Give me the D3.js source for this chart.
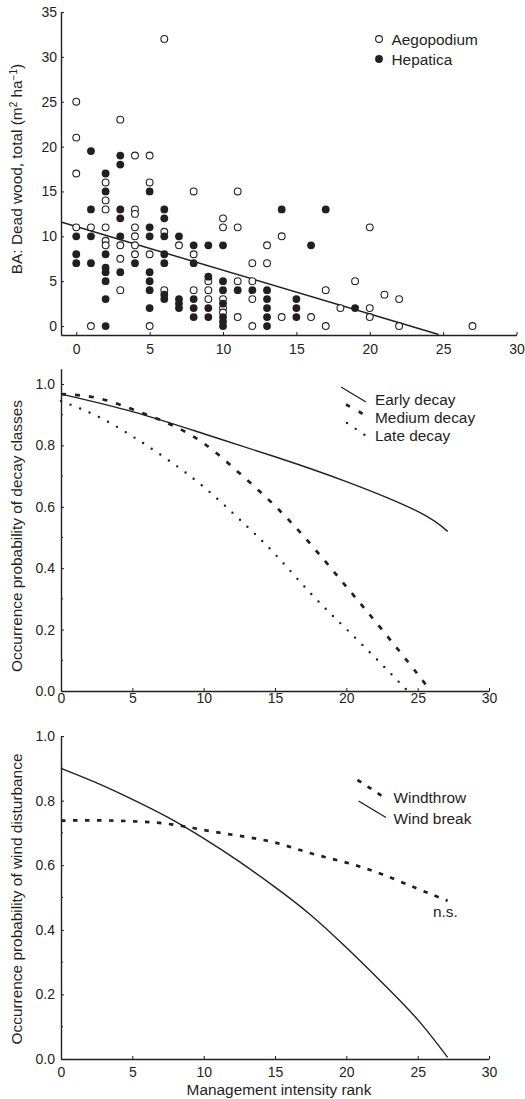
<!DOCTYPE html>
<html><head><meta charset="utf-8">
<script src="https://cdn.jsdelivr.net/npm/d3@7"></script>
<style>
html,body{margin:0;padding:0;background:#fff;}
svg{display:block;font-family:"Liberation Sans",Arial,sans-serif;}
</style></head>
<body>
<svg id="c" width="525" height="1099"></svg>
<script>
// ---------- DATA ----------
// Panel A: dead wood basal area vs management intensity rank
const aegopodium = [
 [0,25],[0,21],[0,17],[0,11],
 [1,11],[1,0],
 [2,16],[2,14],[2,13],[2,11],[2,9.5],[2,9],
 [3,23],[3,9],[3,7.5],[3,4],
 [4,19],[4,13],[4,12.5],[4,11],[4,10],[4,9],[4,8],
 [5,19],[5,16],[5,8],[5,0],
 [6,32],[6,10.5],[6,4],
 [7,9],
 [8,15],[8,8],[8,4],
 [9,5],[9,4],[9,3],
 [10,12],[10,11],[10,3],[10,2],[10,1.5],
 [11,15],[11,11],[11,5],[11,1],
 [12,7],[12,5],[12,3],[12,0],
 [13,9],[13,7],
 [14,10],[14,1],
 [16,1],
 [17,4],[17,0],
 [18,2],
 [19,5],
 [20,11],[20,2],[20,1],
 [21,3.5],
 [22,3],[22,0],
 [27,0]
];
const hepatica = [
 [0,10],[0,8],[0,7],
 [1,19.5],[1,13],[1,10],[1,7],
 [2,17],[2,15],[2,8],[2,6.5],[2,6],[2,5],[2,3],[2,0],
 [3,19],[3,18],[3,13],[3,12],[3,10],[3,6],
 [4,7],
 [5,15],[5,11],[5,10],[5,6],[5,5],[5,4],[5,2],
 [6,13],[6,12],[6,10],[6,8],[6,7],[6,3.5],[6,3],
 [7,10],[7,3],[7,2.5],[7,2],
 [8,9],[8,7],[8,3],[8,2],[8,1],
 [9,9],[9,5.5],[9,2],[9,1],
 [10,9],[10,5],[10,4],[10,2.5],[10,1],[10,0.5],[10,0],
 [11,4],
 [12,4],
 [13,4],[13,3],[13,2],[13,1],[13,0],
 [14,13],
 [15,3],[15,2],[15,1],
 [16,9],
 [17,13],
 [19,2]
];
const regressionLine = [[-1.04,11.6],[24.7,-0.95]];
const xTicksA = [0,5,10,15,20,25,30];
const yTicksA = [0,5,10,15,20,25,30,35];

// Panel B: decay classes
const earlyDecay  = [[0,0.967],[5,0.91],[10,0.838],[15,0.763],[20,0.682],[25,0.585],[27.1,0.52]];
const mediumDecay = [[0,0.967],[2.5,0.955],[5,0.918],[7.5,0.872],[10,0.807],[12.5,0.71],[15,0.603],[17.5,0.478],[20,0.34],[22.5,0.2],[25,0.055],[25.9,0]];
const lateDecay   = [[0,0.945],[2.5,0.896],[5,0.83],[7.5,0.753],[10,0.665],[12.5,0.56],[15,0.446],[17.5,0.318],[20,0.202],[22.5,0.086],[24.3,0]];

// Panel C: wind disturbance
const windBreak = [[0,0.9],[2.5,0.855],[5,0.804],[7.5,0.748],[10,0.683],[12.5,0.611],[15,0.532],[17.5,0.446],[20,0.345],[22.5,0.237],[25,0.122],[27.1,0.005]];
const windthrow = [[0,0.738],[2.5,0.739],[5,0.736],[7.5,0.728],[10,0.709],[12.5,0.691],[15,0.67],[17.5,0.637],[20,0.608],[22.5,0.572],[25,0.527],[27.1,0.49]];

const xTicksBC = [0,5,10,15,20,25,30];
const yTicksBC = [0,0.2,0.4,0.6,0.8,1.0];
const yMinorBC = [0.1,0.3,0.5,0.7,0.9];

// ---------- DRAW ----------
const svg = d3.select("#c");
const INK = "#231f20";
const FS = 14;     // tick labels
const LFS = 15.4;  // titles & legends

function axisStyle(g){
  g.selectAll("path.domain").attr("stroke",INK).attr("stroke-width",1.4);
  g.selectAll(".tick line").attr("stroke",INK).attr("stroke-width",1);
  g.selectAll(".tick text").attr("fill",INK).style("font-size",FS+"px").style("font-family",'"Liberation Sans",Arial,sans-serif');
}
function label(x,y,t){
  return svg.append("text").attr("x",x).attr("y",y).text(t).attr("fill",INK).style("font-size",LFS+"px");
}

// ===== Panel A =====
const xA = d3.scaleLinear().domain([-1.04,30]).range([61,516.5]);
const yA = d3.scaleLinear().domain([-1,35]).range([335,12]);

const gxA = svg.append("g").attr("transform","translate(0,335)")
  .call(d3.axisBottom(xA).tickValues(xTicksA).tickSizeInner(-3).tickSizeOuter(0));
axisStyle(gxA);
gxA.selectAll(".tick text").attr("dy","0").attr("y",19);
const gyA = svg.append("g").attr("transform","translate(61,0)")
  .call(d3.axisLeft(yA).tickValues(yTicksA).tickSizeInner(-3).tickSizeOuter(0).tickPadding(4));
axisStyle(gyA);

svg.append("path").datum(regressionLine)
  .attr("d", d3.line().x(d=>xA(d[0])).y(d=>yA(d[1])))
  .attr("fill","none").attr("stroke",INK).attr("stroke-width",1.5);

svg.append("g").selectAll("circle").data(aegopodium).join("circle")
  .attr("cx",d=>xA(d[0])).attr("cy",d=>yA(d[1])).attr("r",3.4)
  .attr("fill","#fff").attr("stroke",INK).attr("stroke-width",1.1);
svg.append("g").selectAll("circle").data(hepatica).join("circle")
  .attr("cx",d=>xA(d[0])).attr("cy",d=>yA(d[1])).attr("r",3.9)
  .attr("fill",INK);

// legend A
svg.append("circle").attr("cx",379).attr("cy",39).attr("r",3.4).attr("fill","#fff").attr("stroke",INK).attr("stroke-width",1.1);
label(391.5,44.5,"Aegopodium");
svg.append("circle").attr("cx",379).attr("cy",59).attr("r",3.9).attr("fill",INK);
label(391.5,64.5,"Hepatica");

// y label A
const tA = svg.append("text").attr("transform","translate(22,169) rotate(-90)")
  .attr("text-anchor","middle").attr("fill",INK).style("font-size",LFS+"px");
tA.append("tspan").text("BA: Dead wood, total (m");
tA.append("tspan").text("2").attr("dy",-5).style("font-size","10px");
tA.append("tspan").text(" ha").attr("dy",5);
tA.append("tspan").text("\u22121").attr("dy",-5).style("font-size","10px");
tA.append("tspan").text(")").attr("dy",5);

// ===== Panel B =====
const xB = d3.scaleLinear().domain([0,30]).range([61,489]);
const yB = d3.scaleLinear().domain([0,1.05]).range([691,691-1.05*307]);

const gxB = svg.append("g").attr("transform","translate(0,691)")
  .call(d3.axisBottom(xB).tickValues(xTicksBC).tickSizeInner(-3).tickSizeOuter(0));
axisStyle(gxB);
gxB.selectAll(".tick text").attr("dy","0").attr("y",12);
const gyB = svg.append("g").attr("transform","translate(61,0)")
  .call(d3.axisLeft(yB).tickValues(yTicksBC).tickFormat(d3.format(".1f")).tickSizeInner(-3).tickSizeOuter(0).tickPadding(6));
axisStyle(gyB);
svg.append("g").selectAll("line").data(yMinorBC).join("line")
  .attr("x1",61).attr("x2",63).attr("y1",d=>yB(d)).attr("y2",d=>yB(d)).attr("stroke",INK).attr("stroke-width",1);

const lineB = d3.line().x(d=>xB(d[0])).y(d=>yB(d[1])).curve(d3.curveNatural);
svg.append("path").datum(earlyDecay).attr("d",lineB)
  .attr("fill","none").attr("stroke",INK).attr("stroke-width",1.4);
svg.append("path").datum(mediumDecay).attr("d",lineB)
  .attr("fill","none").attr("stroke",INK).attr("stroke-width",2.7).attr("stroke-dasharray","5 9");
svg.append("path").datum(lateDecay).attr("d",lineB)
  .attr("fill","none").attr("stroke",INK).attr("stroke-width",2.4).attr("stroke-linecap","round").attr("stroke-dasharray","0 10.3");

// legend B
svg.append("line").attr("x1",341).attr("y1",387).attr("x2",366).attr("y2",402).attr("stroke",INK).attr("stroke-width",1.3);
svg.append("line").attr("x1",346).attr("y1",404.5).attr("x2",364).attr("y2",414.5).attr("stroke",INK).attr("stroke-width",2.7).attr("stroke-dasharray","4.5 10");
svg.append("line").attr("x1",347).attr("y1",423).attr("x2",367).attr("y2",436.5).attr("stroke",INK).attr("stroke-width",2.4).attr("stroke-linecap","round").attr("stroke-dasharray","0 10.5");
label(375,404.5,"Early decay");
label(375,423,"Medium decay");
label(375,441,"Late decay");
svg.append("text").attr("transform","translate(22,536) rotate(-90)").attr("text-anchor","middle")
  .attr("fill",INK).style("font-size",LFS+"px").text("Occurrence probability of decay classes");

// ===== Panel C =====
const xC = d3.scaleLinear().domain([0,30]).range([61,489]);
const yC = d3.scaleLinear().domain([0,1]).range([1059,736]);

const gxC = svg.append("g").attr("transform","translate(0,1059)")
  .call(d3.axisBottom(xC).tickValues(xTicksBC).tickSizeInner(-3).tickSizeOuter(0));
axisStyle(gxC);
gxC.selectAll(".tick text").attr("dy","0").attr("y",18);
const gyC = svg.append("g").attr("transform","translate(61,0)")
  .call(d3.axisLeft(yC).tickValues(yTicksBC).tickFormat(d3.format(".1f")).tickSizeInner(-3).tickSizeOuter(0).tickPadding(6));
axisStyle(gyC);
svg.append("g").selectAll("line").data(yMinorBC).join("line")
  .attr("x1",61).attr("x2",63).attr("y1",d=>yC(d)).attr("y2",d=>yC(d)).attr("stroke",INK).attr("stroke-width",1);

const lineC = d3.line().x(d=>xC(d[0])).y(d=>yC(d[1])).curve(d3.curveNatural);
svg.append("path").datum(windBreak).attr("d",lineC)
  .attr("fill","none").attr("stroke",INK).attr("stroke-width",1.4);
svg.append("path").datum(windthrow).attr("d",lineC)
  .attr("fill","none").attr("stroke",INK).attr("stroke-width",2.7).attr("stroke-dasharray","4.5 7.5");

// legend C
svg.append("line").attr("x1",357.5).attr("y1",780).attr("x2",386).attr("y2",798.5).attr("stroke",INK).attr("stroke-width",2.7).attr("stroke-dasharray","4.5 7.5");
svg.append("line").attr("x1",358.5).attr("y1",801).attr("x2",386).attr("y2",817.5).attr("stroke",INK).attr("stroke-width",1.3);
label(393.5,803,"Windthrow");
label(393.5,823.5,"Wind break");
label(433,917,"n.s.");

svg.append("text").attr("transform","translate(22,899) rotate(-90)").attr("text-anchor","middle")
  .attr("fill",INK).style("font-size",LFS+"px").text("Occurrence probability of wind disturbance");
svg.append("text").attr("x",279).attr("y",1095).attr("text-anchor","middle")
  .attr("fill",INK).style("font-size",LFS+"px").text("Management intensity rank");
</script>
</body></html>
